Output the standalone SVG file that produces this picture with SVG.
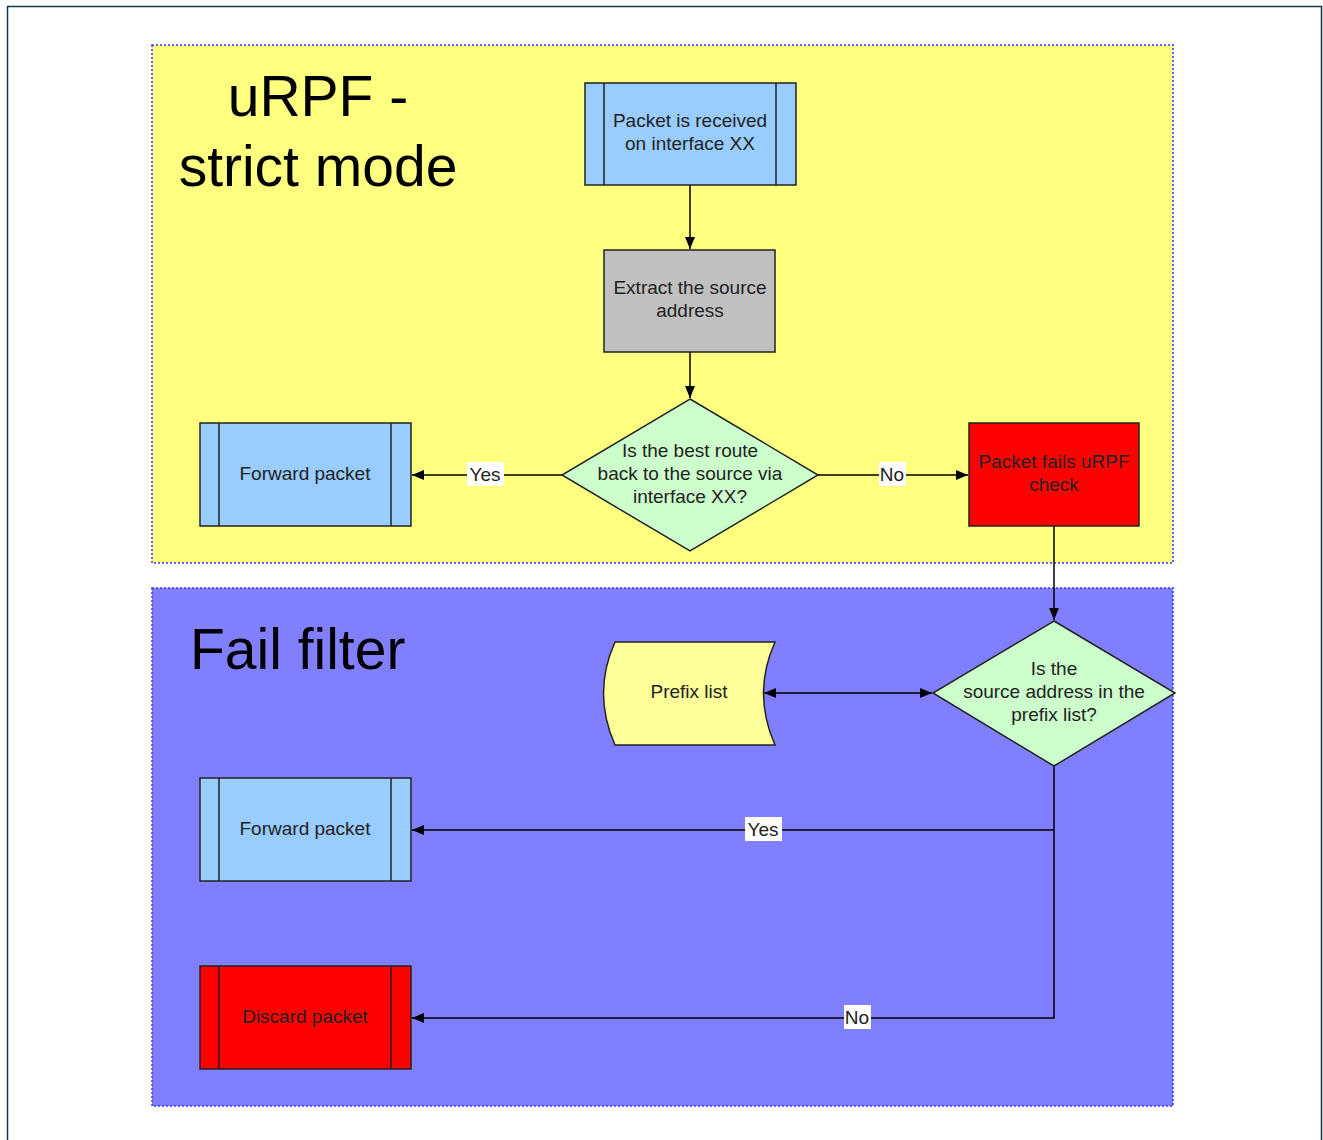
<svg xmlns="http://www.w3.org/2000/svg" width="1323" height="1140" viewBox="0 0 1323 1140">
  <style>
    .lane { stroke: #3333ff; stroke-width: 1.5; stroke-dasharray: 2 2; }
    .box { stroke: #222; stroke-width: 1.5; }
    .bar { stroke: #222; stroke-width: 1.5; fill: none; }
    .lbl { font-family: "Liberation Sans", Arial, sans-serif; font-size: 19px; fill: #222; text-anchor: middle; }
    .title { font-family: "Liberation Sans", Arial, sans-serif; font-size: 57px; fill: #000; }
    .edge { stroke: #000; stroke-width: 1.5; fill: none; }
    .tag { fill: #fff; }
  </style>
  <defs>
    <marker id="arrow" viewBox="0 0 12 10" refX="12" refY="5" markerWidth="12" markerHeight="10" markerUnits="userSpaceOnUse" orient="auto-start-reverse">
      <path d="M0,0 L12,5 L0,10 z" fill="#000"/>
    </marker>
  </defs>

  <rect width="1323" height="1140" fill="#fff"/>
  <!-- page frame -->
  <path d="M7.5,1140 V6.5 H1321.5 V1140" fill="none" stroke="#0b3a45" stroke-width="1.5"/>

  <!-- swimlanes -->
  <g id="lane-strict">
    <rect class="lane" x="152" y="45" width="1021" height="518" fill="#ffff80"/>
    <text class="title" x="318" y="116" text-anchor="middle">uRPF -</text>
    <text class="title" x="318" y="186" text-anchor="middle">strict mode</text>
  </g>
  <g id="lane-fail">
    <rect class="lane" x="152" y="588" width="1021" height="518" fill="#8080ff"/>
    <text class="title" x="190" y="669">Fail filter</text>
  </g>

  <!-- connectors -->
  <g id="connectors">
    <path class="edge" d="M690,185 V249" marker-end="url(#arrow)"/>
    <path class="edge" d="M690,352 V398" marker-end="url(#arrow)"/>
    <path class="edge" d="M562,475 H412" marker-end="url(#arrow)"/>
    <path class="edge" d="M818,475 H968" marker-end="url(#arrow)"/>
    <path class="edge" d="M1054,526 V620" marker-end="url(#arrow)"/>
    <path class="edge" d="M764,693 H932" marker-start="url(#arrow)" marker-end="url(#arrow)"/>
    <path class="edge" d="M1054,766 V830 H412" marker-end="url(#arrow)"/>
    <path class="edge" d="M1054,830 V1018 H412" marker-end="url(#arrow)"/>
    <rect class="tag" x="467" y="462" width="37" height="24"/>
    <text class="lbl" x="485" y="481">Yes</text>
    <rect class="tag" x="879" y="462" width="27" height="24"/>
    <text class="lbl" x="892" y="481">No</text>
    <rect class="tag" x="745" y="817" width="37" height="24"/>
    <text class="lbl" x="763" y="836">Yes</text>
    <rect class="tag" x="844" y="1005" width="27" height="24"/>
    <text class="lbl" x="857" y="1024">No</text>
  </g>

  <!-- nodes -->
  <g id="packet-received">
    <rect class="box" x="585" y="83" width="211" height="102" fill="#99ccff"/>
    <path class="bar" d="M604,83 V185 M776,83 V185"/>
    <text class="lbl" x="690" y="127">Packet is received</text>
    <text class="lbl" x="690" y="150">on interface XX</text>
  </g>
  <g id="extract-source">
    <rect class="box" x="604" y="250" width="171" height="102" fill="#c0c0c0"/>
    <text class="lbl" x="690" y="294">Extract the source</text>
    <text class="lbl" x="690" y="317">address</text>
  </g>
  <g id="best-route">
    <polygon class="box" points="690,399 818,475 690,551 562,475" fill="#ccffcc"/>
    <text class="lbl" x="690" y="457">Is the best route</text>
    <text class="lbl" x="690" y="480">back to the source via</text>
    <text class="lbl" x="690" y="503">interface XX?</text>
  </g>
  <g id="forward-packet-1">
    <rect class="box" x="200" y="423" width="211" height="103" fill="#99ccff"/>
    <path class="bar" d="M219,423 V526 M391,423 V526"/>
    <text class="lbl" x="305" y="480">Forward packet</text>
  </g>
  <g id="fails-check">
    <rect class="box" x="969" y="423" width="170" height="103" fill="#ff0000"/>
    <text class="lbl" x="1054" y="468">Packet fails uRPF</text>
    <text class="lbl" x="1054" y="491">check</text>
  </g>
  <g id="prefix-question">
    <polygon class="box" points="1054,621 1175,693 1054,766 933,693" fill="#ccffcc"/>
    <text class="lbl" x="1054" y="675">Is the</text>
    <text class="lbl" x="1054" y="698">source address in the</text>
    <text class="lbl" x="1054" y="721">prefix list?</text>
  </g>
  <g id="prefix-list">
    <path class="box" d="M615,642 H775 Q752,693 775,745 H615 Q592,693 615,642 Z" fill="#ffff99"/>
    <text class="lbl" x="689" y="698">Prefix list</text>
  </g>
  <g id="forward-packet-2">
    <rect class="box" x="200" y="778" width="211" height="103" fill="#99ccff"/>
    <path class="bar" d="M219,778 V881 M391,778 V881"/>
    <text class="lbl" x="305" y="835">Forward packet</text>
  </g>
  <g id="discard-packet">
    <rect class="box" x="200" y="966" width="211" height="103" fill="#ff0000"/>
    <path class="bar" d="M219,966 V1069 M391,966 V1069"/>
    <text class="lbl" x="305" y="1023">Discard packet</text>
  </g>
</svg>
